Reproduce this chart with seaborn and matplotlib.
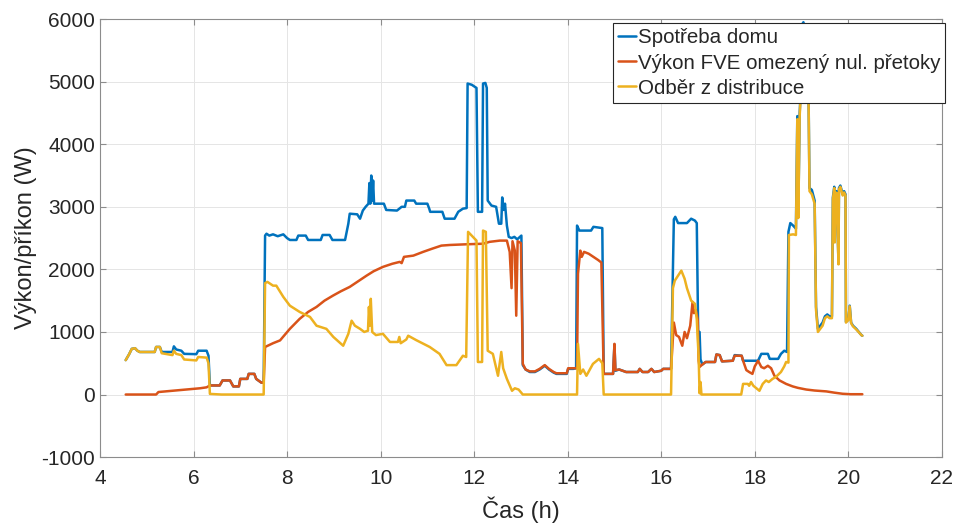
import matplotlib
matplotlib.use("Agg")
import matplotlib.pyplot as plt
import numpy as np
import pandas as pd
import seaborn as sns

# Spotřeba domu (čas [h], výkon [W])
spotreba_t = [4.55, 4.62, 4.68, 4.75, 4.80, 4.85, 5.17, 5.20, 5.28, 5.32, 5.55, 5.58, 5.63, 5.74, 5.80,
              6.06, 6.10, 6.28, 6.32, 6.35, 6.56, 6.62, 6.78, 6.85, 6.97, 7.00, 7.15, 7.18, 7.30, 7.34,
              7.45, 7.50, 7.53, 7.56, 7.62, 7.70, 7.80, 7.92, 8.00, 8.06, 8.20, 8.24, 8.40, 8.45, 8.72,
              8.76, 8.91, 8.97, 9.24, 9.31, 9.34, 9.50, 9.56, 9.62, 9.68, 9.74, 9.76, 9.78, 9.80, 9.82,
              9.84, 9.86, 10.07, 10.12, 10.35, 10.45, 10.52, 10.55, 10.72, 10.76, 11.00, 11.04, 11.06,
              11.32, 11.37, 11.58, 11.66, 11.76, 11.84, 11.86, 11.95, 12.05, 12.08, 12.17, 12.19, 12.24,
              12.27, 12.29, 12.37, 12.47, 12.53, 12.58, 12.60, 12.63, 12.66, 12.70, 12.74, 12.80, 12.86,
              12.92, 13.01, 13.04, 13.10, 13.19, 13.30, 13.40, 13.51, 13.60, 13.70, 13.76, 13.98, 14.01,
              14.12, 14.18, 14.20, 14.25, 14.50, 14.55, 14.74, 14.77, 14.97, 15.00, 15.02, 15.10, 15.25,
              15.50, 15.54, 15.60, 15.72, 15.79, 15.85, 16.00, 16.04, 16.21, 16.27, 16.30, 16.36, 16.55,
              16.64, 16.72, 16.76, 16.79, 16.82, 16.84, 16.88, 16.95, 17.15, 17.18, 17.25, 17.30, 17.53,
              17.57, 17.72, 17.75, 18.07, 18.14, 18.28, 18.32, 18.50, 18.56, 18.63, 18.69, 18.72, 18.76,
              18.82, 18.88, 18.91, 18.93, 18.96, 18.98, 19.00, 19.04, 19.10, 19.15, 19.17, 19.22, 19.28,
              19.31, 19.35, 19.40, 19.45, 19.50, 19.55, 19.60, 19.65, 19.67, 19.70, 19.71, 19.72, 19.75,
              19.79, 19.80, 19.83, 19.88, 19.91, 19.94, 19.95, 20.00, 20.03, 20.06, 20.10, 20.17, 20.28,
              20.30]
spotreba_w = [550, 640, 730, 740, 700, 680, 680, 760, 760, 680, 680, 770, 720, 700, 650,
              645, 700, 700, 620, 145, 145, 225, 225, 130, 130, 250, 250, 330, 330, 250,
              190, 190, 2540, 2570, 2540, 2560, 2530, 2560, 2500, 2470, 2470, 2540, 2540, 2470, 2470,
              2550, 2550, 2470, 2470, 2730, 2890, 2880, 2810, 2940, 3000, 3050, 3380, 3050, 3500, 3100,
              3420, 3050, 3050, 2950, 2940, 3000, 3000, 3100, 3100, 3050, 3050, 2970, 2920,
              2920, 2810, 2810, 2920, 2970, 2980, 4970, 4950, 4900, 2920, 2920, 4970, 4980,
              4900, 3100, 3020, 3000, 2730, 2730, 3150, 2950, 3050, 2700, 2520, 2500, 2520,
              2480, 2540, 470, 400, 360, 360, 400, 460, 400, 350, 330, 330, 410,
              410, 420, 2700, 2620, 2620, 2680, 2660, 330, 330, 800, 380, 400, 360,
              360, 410, 360, 360, 410, 360, 380, 410, 410, 2800, 2840, 2740, 2740,
              2810, 2780, 2740, 1000, 1000, 560, 480, 520, 520, 640, 630, 530, 540,
              630, 620, 540, 540, 650, 650, 570, 570, 650, 700, 680, 2600, 2740,
              2700, 2650, 4450, 2840, 4500, 4800, 5900, 5950, 5800, 4800, 3300, 3270, 3100,
              1400, 1050, 1100, 1150, 1250, 1280, 1250, 1250, 3150, 3320, 2460, 3250, 3250,
              2100, 3300, 3340, 3200, 3250, 3200, 1160, 1200, 1420, 1150, 1100, 1050, 950,
              940]

# Výkon FVE omezený nul. přetoky
fve_t = [4.55, 5.20, 5.25, 5.78, 6.14, 6.28, 6.35, 6.56, 6.62, 6.78, 6.85, 6.97, 7.00, 7.15, 7.18,
         7.30, 7.34, 7.45, 7.50, 7.53, 7.70, 7.85, 8.06, 8.27, 8.45, 8.63, 8.80, 8.98, 9.15, 9.34,
         9.50, 9.70, 9.85, 10.05, 10.25, 10.41, 10.45, 10.50, 10.70, 10.91, 11.10, 11.30, 11.48,
         11.80, 12.19, 12.33, 12.55, 12.70, 12.76, 12.80, 12.82, 12.87, 12.90, 12.93, 13.00, 13.04,
         13.10, 13.19, 13.30, 13.40, 13.51, 13.60, 13.70, 13.76, 13.98, 14.01, 14.12, 14.20, 14.22,
         14.27, 14.30, 14.35, 14.45, 14.55, 14.65, 14.72, 14.77, 14.97, 15.00, 15.02, 15.10, 15.25,
         15.50, 15.54, 15.60, 15.72, 15.79, 15.85, 16.00, 16.04, 16.21, 16.27, 16.32, 16.38, 16.45,
         16.50, 16.55, 16.62, 16.67, 16.70, 16.74, 16.78, 16.80, 16.82, 16.88, 16.95, 17.15, 17.18,
         17.25, 17.30, 17.53, 17.57, 17.72, 17.75, 17.82, 17.88, 17.95, 18.00, 18.07, 18.14, 18.20,
         18.28, 18.35, 18.42, 18.53, 18.67, 18.81, 18.92, 19.10, 19.28, 19.53, 19.70, 19.88, 20.05,
         20.30]
fve_w = [0, 0, 40, 75, 100, 115, 145, 145, 225, 225, 130, 130, 250, 250, 330,
         330, 250, 190, 190, 760, 820, 865, 1050, 1210, 1320, 1400, 1500, 1580, 1650, 1720,
         1800, 1900, 1970, 2040, 2090, 2120, 2100, 2200, 2220, 2280, 2330, 2380, 2390,
         2400, 2410, 2440, 2460, 2460, 2280, 1700, 2450, 2300, 1260, 2450, 2420, 490,
         400, 370, 370, 410, 470, 410, 360, 340, 340, 420, 420, 420, 1930,
         2300, 2200, 2280, 2250, 2200, 2150, 2110, 330, 330, 810, 390, 400, 360,
         360, 410, 360, 360, 410, 360, 380, 410, 410, 1150, 950, 920, 780,
         1000, 900, 1100, 1480, 1300, 1350, 1200, 540, 440, 480, 520, 520, 640,
         630, 530, 540, 620, 620, 540, 390, 360, 330, 450, 540, 440, 420,
         460, 420, 300, 225, 170, 130, 107, 80, 64, 50, 30, 12, 5,
         5]

# Odběr z distribuce
odber_t = [4.55, 4.62, 4.68, 4.75, 4.80, 4.85, 5.17, 5.20, 5.28, 5.32, 5.55, 5.58, 5.63, 5.74, 5.80,
           6.06, 6.10, 6.28, 6.32, 6.35, 6.50, 6.60, 7.50, 7.53, 7.58, 7.70, 7.77, 7.92, 8.06, 8.27,
           8.49, 8.63, 8.84, 8.99, 9.20, 9.31, 9.38, 9.45, 9.56, 9.65, 9.73, 9.75, 9.77, 9.79, 9.82,
           9.90, 10.05, 10.20, 10.37, 10.40, 10.43, 10.55, 10.59, 10.76, 11.05, 11.26, 11.41, 11.62,
           11.76, 11.83, 11.87, 12.00, 12.05, 12.08, 12.17, 12.19, 12.25, 12.29, 12.40, 12.51, 12.58,
           12.62, 12.70, 12.81, 12.87, 12.95, 13.04, 14.20, 14.22, 14.27, 14.33, 14.40, 14.54, 14.67,
           14.74, 14.77, 16.21, 16.25, 16.29, 16.43, 16.50, 16.55, 16.64, 16.72, 16.76, 16.80, 16.82,
           16.84, 16.86, 17.71, 17.75, 17.85, 17.88, 17.92, 17.97, 18.10, 18.17, 18.24, 18.30, 18.38,
           18.45, 18.56, 18.63, 18.67, 18.72, 18.73, 18.82, 18.88, 18.91, 18.93, 18.96, 18.98, 19.00,
           19.04, 19.10, 19.15, 19.17, 19.22, 19.28, 19.31, 19.35, 19.40, 19.45, 19.50, 19.55, 19.60,
           19.65, 19.67, 19.70, 19.71, 19.72, 19.75, 19.79, 19.80, 19.83, 19.88, 19.91, 19.94, 19.95,
           20.00, 20.03, 20.06, 20.10, 20.17, 20.28, 20.30]
odber_w = [550, 640, 730, 740, 700, 680, 680, 760, 760, 660, 630, 700, 650, 630, 560,
           545, 600, 590, 500, 10, 5, 0, 0, 1780, 1800, 1740, 1740, 1560, 1420, 1320,
           1240, 1100, 1050, 920, 780, 970, 1180, 1100, 1050, 1000, 1020, 1400, 1100, 1530, 1000,
           950, 970, 840, 840, 920, 820, 880, 940, 870, 760, 650, 470, 470,
           620, 600, 2600, 2500, 2460, 520, 520, 2620, 2600, 700, 650, 300, 680,
           420, 250, 60, 100, 80, 0, 0, 810, 330, 400, 300, 490, 570,
           500, 0, 0, 1700, 1820, 1980, 1850, 1700, 1500, 1450, 1200, 600, 20,
           200, 0, 0, 170, 170, 140, 200, 140, 60, 170, 225, 200, 250,
           280, 360, 450, 520, 510, 2550, 2560, 2550, 4400, 2820, 4450, 4750, 5800,
           5850, 5750, 4750, 3250, 3200, 3050, 1350, 1000, 1050, 1100, 1220, 1250, 1220,
           1220, 3120, 3300, 2430, 3230, 3220, 2080, 3280, 3320, 3180, 3230, 3180, 1150,
           1190, 1410, 1140, 1090, 1040, 950, 940]

x_ticks = np.arange(4, 23, 2)
y_ticks = np.arange(-1000, 6001, 1000)

sns.set_style("white")
plt.rcParams['font.family'] = ['Liberation Sans', 'DejaVu Sans']
plt.rcParams['axes.unicode_minus'] = False

fig = plt.figure(figsize=(9.66, 5.23), dpi=100)
ax = fig.add_axes([0.1035, 0.126, 0.8715, 0.8375])

series = [
    (spotreba_t, spotreba_w, "Spotřeba domu", "#0072BD"),
    (fve_t, fve_w, "Výkon FVE omezený nul. přetoky", "#D95319"),
    (odber_t, odber_w, "Odběr z distribuce", "#EDB120"),
]
for t, w, name, color in series:
    df = pd.DataFrame({"cas": t, "vykon": w})
    sns.lineplot(data=df, x="cas", y="vykon", ax=ax, color=color, label=name,
                 linewidth=1.8, estimator=None, sort=False)

ax.set_xlim(4, 22)
ax.set_ylim(-1000, 6000)
ax.set_xticks(x_ticks)
ax.set_yticks(y_ticks)
ax.grid(True, color="#e5e5e5", linewidth=0.7)
ax.set_axisbelow(True)
for s in ax.spines.values():
    s.set_color("#8c8c8c")
    s.set_linewidth(0.8)
ax.tick_params(direction="in", length=4, colors="#8c8c8c", labelcolor="#262626",
               labelsize=15, top=True, right=True, bottom=True, left=True)
ax.tick_params(axis="x", pad=8.5)

ax.set_xlabel("Čas (h)", fontsize=17, color="#262626", labelpad=6)
ax.set_ylabel("Výkon/příkon (W)", fontsize=17, color="#262626", labelpad=3)

leg = ax.legend(loc="upper right", bbox_to_anchor=(1.009, 1.0), fontsize=14.8, frameon=True,
                fancybox=False, handlelength=0.85, handletextpad=0.1, borderpad=0.25,
                labelspacing=0.3, borderaxespad=0.2, framealpha=1)
leg.get_frame().set_edgecolor("#262626")
leg.get_frame().set_linewidth(0.8)
for line in leg.get_lines():
    line.set_linewidth(1.8)

fig.savefig("out.png", dpi=100)
